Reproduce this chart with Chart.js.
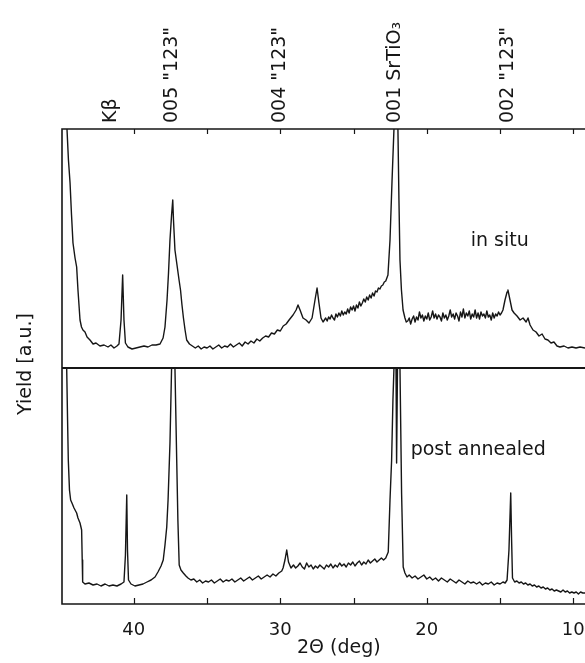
<!DOCTYPE html>
<html>
<head>
<meta charset="utf-8">
<script src="https://cdn.jsdelivr.net/npm/chart.js@4.4.1/dist/chart.umd.min.js"></script>
<style>
  html, body { margin: 0; padding: 0; background: #fff; }
  canvas { display: block; }
</style>
</head>
<body>
<canvas id="xrd" width="585" height="663"></canvas>
<script>
// 2-theta scans (angle in deg, yield in arbitrary units)
const inSituAngle = [
  44.63, 44.56, 44.46, 44.35, 44.25, 44.15, 44.01, 43.90, 43.81, 43.67, 43.57, 43.47,
  43.33, 43.19, 42.99, 42.78, 42.58, 42.31, 42.03, 41.76, 41.56, 41.35, 41.15, 41.01,
  40.87, 40.76, 40.67, 40.57, 40.40, 40.12, 39.85, 39.58, 39.30, 39.03, 38.76, 38.48,
  38.21, 38.00, 37.87, 37.73, 37.63, 37.53, 37.42, 37.34, 37.29, 37.19, 37.05, 36.91,
  36.81, 36.71, 36.61, 36.50, 36.39, 36.20, 36.00, 35.80, 35.60, 35.40, 35.20, 35.00,
  34.80, 34.60, 34.40, 34.20, 34.00, 33.80, 33.60, 33.40, 33.20, 33.00, 32.80, 32.60,
  32.40, 32.20, 32.00, 31.80, 31.60, 31.40, 31.20, 31.00, 30.80, 30.60, 30.40, 30.20,
  30.00, 29.80, 29.60, 29.40, 29.13, 28.92, 28.79, 28.65, 28.45, 28.24, 28.04, 27.83,
  27.63, 27.49, 27.36, 27.22, 27.08, 26.90, 26.80, 26.70, 26.60, 26.50, 26.40, 26.30,
  26.20, 26.10, 26.00, 25.90, 25.80, 25.70, 25.60, 25.50, 25.40, 25.30, 25.20, 25.10,
  25.00, 24.90, 24.80, 24.70, 24.60, 24.50, 24.40, 24.30, 24.20, 24.10, 24.00, 23.90,
  23.80, 23.70, 23.60, 23.50, 23.40, 23.30, 23.20, 23.10, 23.00, 22.90, 22.80, 22.65,
  22.51, 22.37, 22.24, 22.17, 22.03, 21.97, 21.90, 21.83, 21.73, 21.62, 21.49, 21.40,
  21.30, 21.20, 21.10, 21.00, 20.90, 20.80, 20.70, 20.60, 20.50, 20.40, 20.30, 20.20,
  20.10, 20.00, 19.90, 19.80, 19.70, 19.60, 19.50, 19.40, 19.30, 19.20, 19.10, 19.00,
  18.90, 18.80, 18.70, 18.60, 18.50, 18.40, 18.30, 18.20, 18.10, 18.00, 17.90, 17.80,
  17.70, 17.60, 17.50, 17.40, 17.30, 17.20, 17.10, 17.00, 16.90, 16.80, 16.70, 16.60,
  16.50, 16.40, 16.30, 16.20, 16.10, 16.00, 15.90, 15.80, 15.70, 15.60, 15.50, 15.40,
  15.30, 15.20, 15.10, 15.00, 14.90, 14.80, 14.66, 14.52, 14.46, 14.32, 14.18, 14.04,
  13.84, 13.63, 13.43, 13.22, 13.09, 12.95, 12.75, 12.54, 12.34, 12.13, 11.93, 11.73,
  11.52, 11.32, 11.11, 10.91, 10.63, 10.36, 10.09, 9.81, 9.54, 9.20
];
const inSituYield = [
  300, 239, 208, 185, 153, 125, 110, 101, 78, 48, 41, 38,
  36, 31, 28, 24, 25, 22, 23, 21, 23, 20, 22, 24,
  48, 93, 48, 25, 21, 19, 20, 21, 22, 21, 23, 23,
  24, 30, 41, 68, 95, 128, 153, 168, 148, 118, 103, 88,
  78, 63, 50, 38, 28, 24, 22, 20, 22, 19, 21, 20,
  22, 19, 21, 23, 20, 22, 21, 24, 21, 23, 25, 22,
  26, 24, 27, 25, 29, 27, 30, 32, 31, 35, 34, 38,
  37, 42, 44, 48, 53, 58, 63, 58, 50, 48, 45, 50,
  68, 80, 65, 50, 46, 50, 47, 51, 49, 53, 50, 48,
  54, 51, 55, 52, 57, 53, 56, 54, 59, 55, 61, 58,
  62, 57, 63, 60, 66, 62, 65, 69, 66, 71, 68, 73,
  70, 75, 72, 77, 76, 80, 79, 82, 83, 86, 87, 93,
  128, 188, 239, 280, 280, 239, 168, 108, 78, 58, 50, 46,
  47, 50, 44, 49, 52, 46, 51, 48, 56, 50, 53, 47,
  52, 49, 55, 48, 51, 57, 50, 54, 49, 53, 51, 47,
  55, 50, 53, 48, 52, 58, 51, 54, 49, 55, 52, 47,
  56, 51, 59, 50, 55, 52, 57, 49, 54, 51, 58, 50,
  55, 49, 56, 52, 54, 50, 57, 51, 53, 48, 55, 50,
  54, 52, 56, 53, 55, 58, 68, 76, 78, 68, 58, 55,
  52, 48, 50, 46, 50, 43, 38, 36, 32, 34, 29, 28,
  25, 26, 22, 21, 22, 20, 21, 20, 21, 20
];

const annealedAngle = [
  44.63, 44.58, 44.52, 44.47, 44.39, 44.31, 44.22, 44.08, 43.90, 43.81, 43.67, 43.56,
  43.52, 43.49, 43.33, 43.06, 42.78, 42.51, 42.24, 41.96, 41.69, 41.42, 41.15, 40.87,
  40.67, 40.57, 40.48, 40.43, 40.36, 40.19, 39.92, 39.64, 39.37, 39.10, 38.82, 38.55,
  38.35, 38.14, 37.99, 37.87, 37.75, 37.66, 37.53, 37.42, 37.39, 37.25, 37.19, 37.07,
  36.99, 36.90, 36.78, 36.62, 36.44, 36.30, 36.10, 35.90, 35.70, 35.50, 35.30, 35.10,
  34.90, 34.70, 34.50, 34.30, 34.10, 33.90, 33.70, 33.50, 33.30, 33.10, 32.90, 32.70,
  32.50, 32.30, 32.10, 31.90, 31.70, 31.50, 31.30, 31.10, 30.90, 30.70, 30.50, 30.30,
  30.10, 29.90, 29.81, 29.68, 29.56, 29.44, 29.27, 29.10, 28.95, 28.80, 28.65, 28.50,
  28.35, 28.20, 28.05, 27.90, 27.75, 27.60, 27.45, 27.30, 27.15, 27.00, 26.85, 26.70,
  26.55, 26.40, 26.25, 26.10, 25.95, 25.80, 25.65, 25.50, 25.35, 25.20, 25.05, 24.90,
  24.75, 24.60, 24.45, 24.30, 24.15, 24.00, 23.85, 23.70, 23.55, 23.40, 23.25, 23.10,
  22.95, 22.80, 22.63, 22.51, 22.40, 22.31, 22.24, 22.21, 22.10, 22.06, 22.00, 21.93,
  21.83, 21.72, 21.61, 21.49, 21.35, 21.20, 21.00, 20.80, 20.60, 20.40, 20.20, 20.00,
  19.80, 19.60, 19.40, 19.20, 19.00, 18.80, 18.60, 18.40, 18.20, 18.00, 17.80, 17.60,
  17.40, 17.20, 17.00, 16.80, 16.60, 16.40, 16.20, 16.00, 15.80, 15.60, 15.40, 15.20,
  15.00, 14.80, 14.65, 14.52, 14.39, 14.27, 14.21, 14.15, 14.00, 13.85, 13.70, 13.55,
  13.40, 13.25, 13.10, 12.95, 12.80, 12.65, 12.50, 12.35, 12.20, 12.05, 11.90, 11.75,
  11.60, 11.45, 11.30, 11.15, 11.00, 10.85, 10.70, 10.55, 10.40, 10.25, 10.10, 9.95,
  9.80, 9.65, 9.50, 9.35, 9.20
];
const annealedYield = [
  280, 236, 184, 144, 114, 104, 101, 96, 91, 86, 81, 74,
  44, 22, 20, 21, 19, 20, 18, 20, 18, 19, 18, 20,
  22, 49, 109, 54, 24, 20, 18, 19, 20, 22, 24, 27,
  32, 38, 44, 59, 77, 104, 161, 236, 280, 280, 236, 144,
  84, 39, 34, 31, 28, 26, 24, 25, 22, 24, 21, 23,
  22, 24, 21, 23, 25, 22, 24, 23, 25, 22, 24, 26,
  23, 25, 27, 24, 26, 28, 25, 27, 29, 27, 30, 28,
  31, 33, 36, 44, 54, 42, 36, 39, 36, 38, 41, 37,
  35, 41, 37, 39, 35, 38, 36, 39, 37, 35, 39, 37,
  40, 36, 39, 37, 41, 38, 40, 37, 41, 39, 42, 38,
  41, 43, 39, 42, 40, 44, 41, 43, 45, 42, 44, 46,
  44, 46, 52, 104, 144, 204, 236, 280, 236, 141, 236, 280,
  236, 111, 37, 31, 27, 29, 26, 28, 25, 27, 29, 25,
  27, 24, 26, 23, 26, 24, 22, 25, 23, 21, 24, 22,
  20, 23, 21, 22, 20, 22, 19, 21, 20, 22, 19, 21,
  20, 22, 21, 24, 54, 111, 64, 26, 22, 23, 21, 22,
  20, 21, 19, 20, 18, 19, 17, 18, 16, 17, 15, 16,
  14, 15, 13, 14, 13, 12, 14, 12, 13, 11, 12, 11,
  12, 10, 12, 11, 11
];

const angleRange = [9.2, 44.9];
const inSituMax = 239;
const annealedMax = 236;
const tickDegrees = [10, 15, 20, 25, 30, 35, 40];
const labeledDegrees = [10, 20, 30, 40];
const peakAngles = [41.55, 37.39, 30.02, 22.17, 14.46];
const peakLabels = ['Kβ', '005 "123"', '004 "123"', '001 SrTiO₃', '002 "123"'];

const ink = '#161616';
const font = 'DejaVu Sans';

const pts = (xs, ys) => xs.map((x, i) => ({ x, y: ys[i] }));

// draws the box, inward ticks and the annotation text; clips each scan to its own panel
const xrdFrame = {
  id: 'xrdFrame',
  beforeDatasetDraw(chart, args) {
    const y = args.meta.yScale;
    const a = chart.chartArea;
    const ctx = chart.ctx;
    ctx.save();
    ctx.beginPath();
    ctx.rect(a.left, y.top, a.right - a.left, y.bottom - y.top);
    ctx.clip();
  },
  afterDatasetDraw(chart) {
    chart.ctx.restore();
  },
  afterDraw(chart) {
    const { ctx, chartArea: a, scales } = chart;
    const x = scales.x;
    const split = scales.yBot.top;
    ctx.save();
    ctx.strokeStyle = ink;
    ctx.lineWidth = 1.6;
    ctx.beginPath();
    ctx.moveTo(a.right, a.top);
    ctx.lineTo(a.left, a.top);
    ctx.lineTo(a.left, a.bottom);
    ctx.lineTo(a.right, a.bottom);
    ctx.stroke();

    ctx.lineWidth = 2.2;
    ctx.beginPath();
    ctx.moveTo(a.left, split);
    ctx.lineTo(a.right, split);
    ctx.stroke();

    ctx.lineWidth = 1.2;
    ctx.beginPath();
    tickDegrees.forEach(v => {
      const px = Math.round(x.getPixelForValue(v)) + 0.5;
      ctx.moveTo(px, a.bottom);
      ctx.lineTo(px, a.bottom - 6);
      ctx.moveTo(px, a.top);
      ctx.lineTo(px, a.top + 5);
    });
    ctx.stroke();

    ctx.fillStyle = ink;
    ctx.font = `19px "${font}"`;
    ctx.textAlign = 'left';
    ctx.textBaseline = 'middle';
    peakLabels.forEach((label, i) => {
      ctx.save();
      ctx.translate(x.getPixelForValue(peakAngles[i]), a.top - 6);
      ctx.rotate(-Math.PI / 2);
      ctx.fillText(label, 0, 0);
      ctx.restore();
    });

    ctx.textBaseline = 'alphabetic';
    ctx.fillText('in situ', x.getPixelForValue(17.0), scales.yTop.getPixelForValue(122));
    ctx.fillText('post annealed', x.getPixelForValue(21.1), scales.yBot.getPixelForValue(149));

    ctx.textAlign = 'center';
    ctx.fillText('2Θ (deg)', x.getPixelForValue(26.0), 653);

    ctx.save();
    ctx.translate(31, 364);
    ctx.rotate(-Math.PI / 2);
    ctx.fillText('Yield [a.u.]', 0, 0);
    ctx.restore();
    ctx.restore();
  }
};

new Chart(document.getElementById('xrd'), {
  type: 'line',
  data: {
    datasets: [
      {
        label: 'in situ',
        data: pts(inSituAngle, inSituYield),
        yAxisID: 'yTop'
      },
      {
        label: 'post annealed',
        data: pts(annealedAngle, annealedYield),
        yAxisID: 'yBot'
      }
    ]
  },
  options: {
    responsive: false,
    animation: false,
    events: [],
    layout: { padding: { left: 62, top: 129, right: 0, bottom: 19 } },
    elements: {
      point: { radius: 0 },
      line: { borderColor: ink, borderWidth: 1.4, borderJoinStyle: 'round', tension: 0 }
    },
    plugins: {
      legend: { display: false },
      tooltip: { enabled: false }
    },
    scales: {
      x: {
        type: 'linear',
        reverse: true,
        min: angleRange[0],
        max: angleRange[1],
        grid: { display: false },
        border: { display: false },
        afterBuildTicks: s => { s.ticks = tickDegrees.map(value => ({ value })); },
        afterFit: s => { s.height = 40; },
        ticks: {
          autoSkip: false,
          maxRotation: 0,
          padding: 8,
          color: ink,
          font: { family: font, size: 18 },
          callback: v => labeledDegrees.includes(v) ? String(v) : ''
        }
      },
      // stacked panels are laid out bottom-up, so the lower panel comes first
      yBot: {
        type: 'linear',
        position: 'left',
        stack: 'panels',
        stackWeight: annealedMax,
        min: 0,
        max: annealedMax,
        grid: { display: false },
        border: { display: false },
        ticks: { display: false },
        afterFit: s => { s.width = 0; }
      },
      yTop: {
        type: 'linear',
        position: 'left',
        stack: 'panels',
        stackWeight: inSituMax,
        min: 0,
        max: inSituMax,
        grid: { display: false },
        border: { display: false },
        ticks: { display: false },
        afterFit: s => { s.width = 0; }
      }
    }
  },
  plugins: [xrdFrame]
});
</script>
</body>
</html>
